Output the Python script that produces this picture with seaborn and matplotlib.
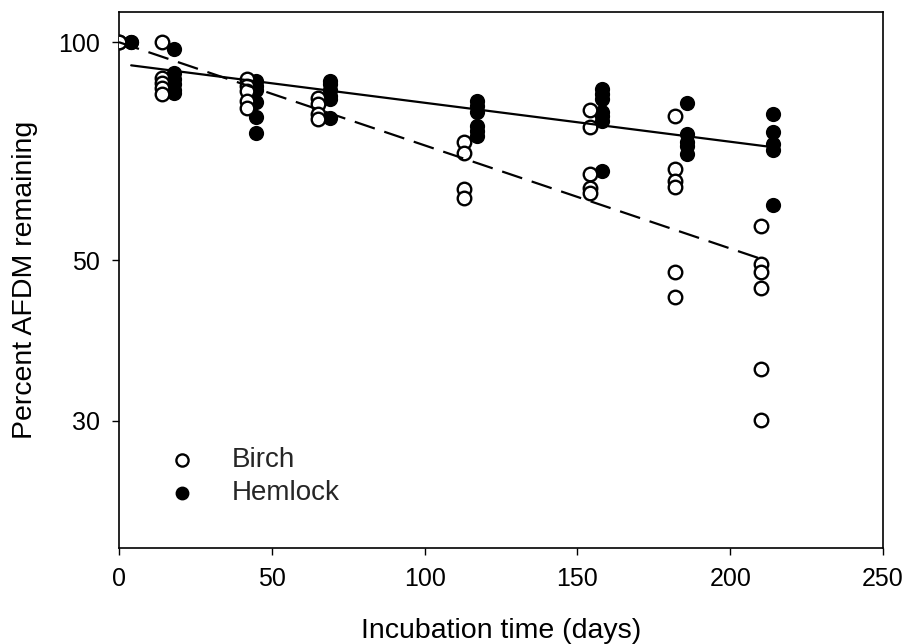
import numpy as np
import pandas as pd
import matplotlib
matplotlib.use("Agg")
import matplotlib.pyplot as plt
import seaborn as sns
from matplotlib.ticker import FixedLocator, NullLocator, FixedFormatter

# ---- data ----
birch_days = [0, 0, 14, 14, 14, 14, 14,
              42, 42, 42, 42, 42,
              65, 65, 65, 65,
              113, 113, 113, 113,
              154, 154, 154, 154, 154,
              182, 182, 182, 182, 182, 182,
              210, 210, 210, 210, 210, 210]
birch_pct = [100, 100, 100, 89.2, 87.7, 86.4, 84.8,
             88.9, 87.0, 85.5, 82.9, 81.0,
             83.7, 82.1, 79.5, 78.3,
             72.9, 70.3, 62.6, 60.9,
             80.5, 76.3, 65.7, 62.8, 61.8,
             79.0, 66.7, 64.2, 63.0, 48.2, 44.4,
             55.8, 49.3, 48.1, 45.7, 35.4, 30.1]

hemlock_days = [4, 4,
                18, 18, 18, 18, 18, 18,
                45, 45, 45, 45, 45, 45,
                69, 69, 69, 69, 69, 69,
                117, 117, 117, 117, 117, 117,
                158, 158, 158, 158, 158, 158, 158,
                186, 186, 186, 186, 186,
                214, 214, 214, 214, 214]
hemlock_pct = [100, 100,
               97.8, 90.6, 89.0, 87.5, 86.0, 85.0,
               88.3, 86.9, 85.8, 82.6, 78.8, 74.8,
               88.3, 87.5, 85.8, 84.2, 83.4, 78.5,
               82.9, 81.6, 80.2, 76.5, 75.3, 74.1,
               86.1, 84.8, 83.4, 80.2, 79.0, 77.8, 66.3,
               82.3, 74.6, 72.9, 71.8, 70.0,
               79.5, 75.1, 72.3, 70.9, 59.5]

# fitted decay lines (end points)
birch_line_days = [0, 210]
birch_line_pct = [100.0, 50.2]
hemlock_line_days = [4, 214]
hemlock_line_pct = [92.9, 71.6]

x_ticks = [0, 50, 100, 150, 200, 250]
y_ticks = [30, 50, 100]
y_tick_labels = ["30", "50", "100"]

# ---- plotting ----
sns.set_theme(style="white")
plt.rcParams['font.family'] = ['Liberation Sans', 'DejaVu Sans']

fig = plt.figure(figsize=(9.08, 6.44), dpi=100)
ax = fig.add_axes([0.131, 0.149, 0.8415, 0.832])

birch = pd.DataFrame({"days": birch_days, "pct": birch_pct})
hemlock = pd.DataFrame({"days": hemlock_days, "pct": hemlock_pct})
bl = pd.DataFrame({"days": birch_line_days, "pct": birch_line_pct})
hl = pd.DataFrame({"days": hemlock_line_days, "pct": hemlock_line_pct})

sns.scatterplot(data=hemlock, x="days", y="pct", ax=ax, s=95, color="black",
                edgecolor="black", linewidth=1.2, marker="o", label="Hemlock",
                zorder=3)
sns.scatterplot(data=birch, x="days", y="pct", ax=ax, s=95, facecolor="white",
                edgecolor="black", linewidth=1.7, marker="o", label="Birch",
                zorder=4)

sns.lineplot(data=hl, x="days", y="pct", ax=ax, color="black", linewidth=1.6,
             zorder=5, legend=False)
sns.lineplot(data=bl, x="days", y="pct", ax=ax, color="black", linewidth=1.6,
             dashes=False, zorder=5, legend=False)
ax.lines[-1].set_dashes((9.5, 4.5))

ax.set_yscale("log")
ax.set_xlim(0, 250)
ax.set_ylim(20, 110)
ax.xaxis.set_major_locator(FixedLocator(x_ticks))
ax.yaxis.set_major_locator(FixedLocator(y_ticks))
ax.yaxis.set_major_formatter(FixedFormatter(y_tick_labels))
ax.yaxis.set_minor_locator(NullLocator())

for sp in ax.spines.values():
    sp.set_visible(True)
    sp.set_color("black")
    sp.set_linewidth(1.2)

ax.tick_params(axis="both", which="major", direction="out", length=5,
               width=1.0, color="black", labelsize=18, pad=9,
               bottom=True, left=True, labelcolor="black")

ax.set_xlabel("Incubation time (days)", fontsize=20.5, labelpad=19, color="black")
ax.set_ylabel("Percent AFDM remaining", fontsize=20.5, labelpad=14, color="black")

handles, labels = ax.get_legend_handles_labels()
order = [labels.index("Birch"), labels.index("Hemlock")]
leg = ax.legend([handles[i] for i in order], [labels[i] for i in order],
                loc="lower left", bbox_to_anchor=(0.0315, 0.058), frameon=False,
                borderaxespad=0, fontsize=20, handletextpad=0.8,
                labelspacing=0.25, markerscale=0.9)

fig.savefig("out.png", dpi=100)
